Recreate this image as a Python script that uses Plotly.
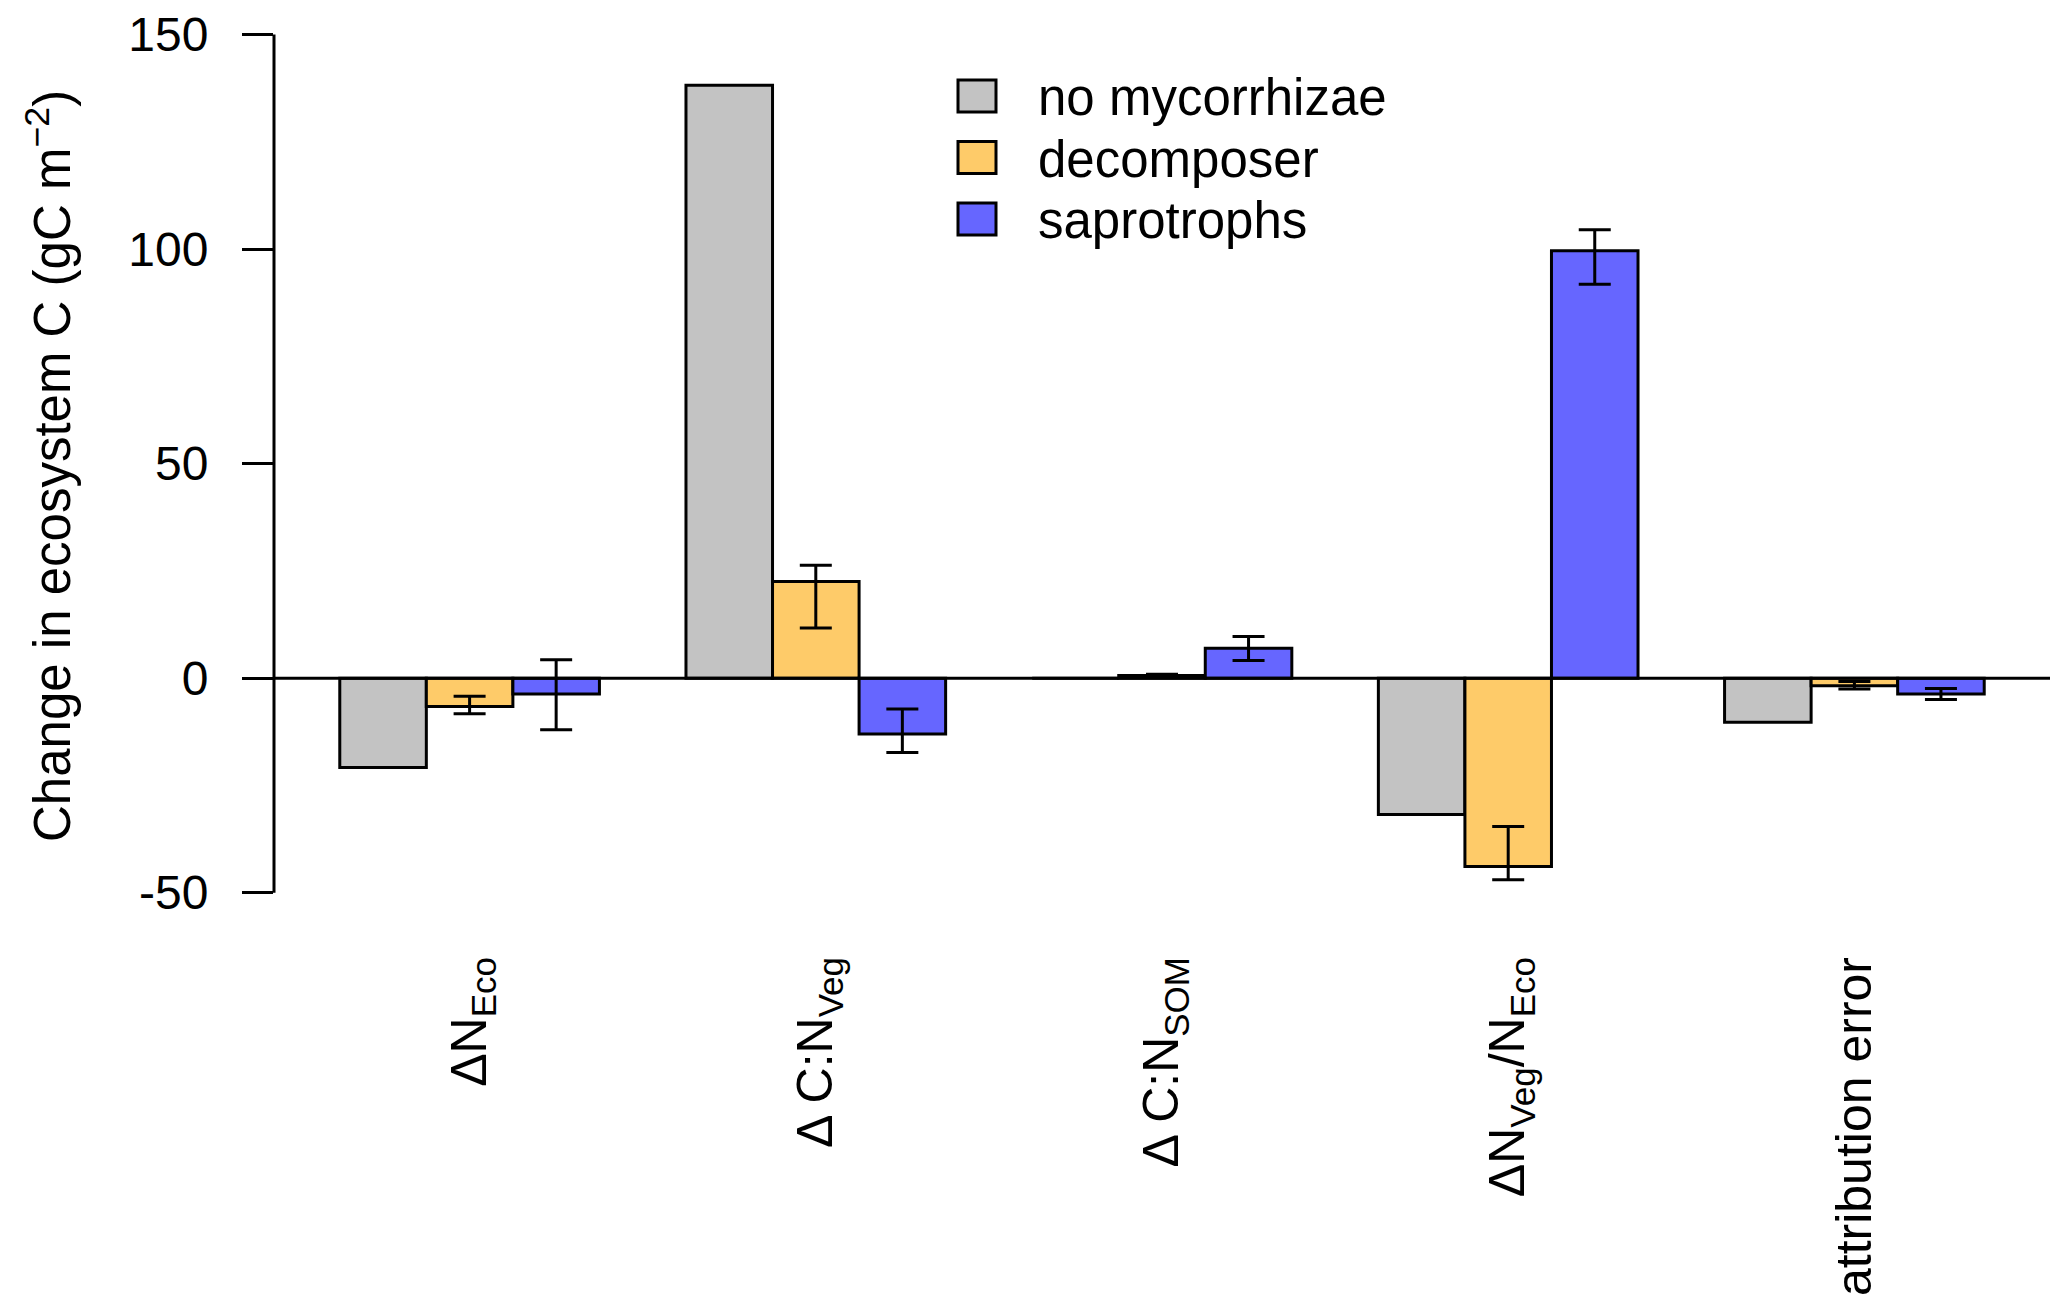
import plotly.graph_objects as go

# categories (x axis) and series
categories = ["ΔN<sub>Eco</sub>", "Δ C:N<sub>Veg</sub>", "Δ C:N<sub>SOM</sub>",
              "ΔN<sub>Veg</sub>/N<sub>Eco</sub>", "attribution error"]
series_names = ["no mycorrhizae", "decomposer", "saprotrophs"]
series_colors = ["#C3C3C3", "#FECB69", "#6666FF"]

no_myc = [-20.8, 138.2, 0.0, -31.8, -10.3]
decomposer = [-6.6, 22.5, 0.6, -43.9, -1.75]
decomposer_lo = [-8.3, 11.7, 0.3, -47.0, -2.5]
decomposer_hi = [-4.2, 26.3, 0.9, -34.6, -0.8]
saprotrophs = [-3.7, -13.0, 6.95, 99.6, -3.7]
saprotrophs_lo = [-12.0, -17.3, 4.1, 91.8, -5.0]
saprotrophs_hi = [4.3, -7.2, 9.7, 104.5, -2.4]

y_ticks = [-50, 0, 50, 100, 150]
y_ticktext = ["-50", "0", "50", "100", "150"]

FONT = "Liberation Sans, Arial, sans-serif"
# page body has an 8px margin, so the figure is a bit smaller than the window
W, H = 2051, 1299
ML, MR, MT, MB = 266, 9, 0, 380
OFF = 8
LW = 3


def err(vals, lo, hi):
    return dict(type="data", symmetric=False,
                array=[h - v for v, h in zip(vals, hi)],
                arrayminus=[v - l for v, l in zip(vals, lo)],
                color="black", thickness=LW, width=16)


fig = go.Figure()
fig.add_trace(go.Bar(x=categories, y=no_myc, name=series_names[0],
                     marker=dict(color=series_colors[0], line=dict(color="black", width=LW))))
fig.add_trace(go.Bar(x=categories, y=decomposer, name=series_names[1],
                     marker=dict(color=series_colors[1], line=dict(color="black", width=LW)),
                     error_y=err(decomposer, decomposer_lo, decomposer_hi)))
fig.add_trace(go.Bar(x=categories, y=saprotrophs, name=series_names[2],
                     marker=dict(color=series_colors[2], line=dict(color="black", width=LW)),
                     error_y=err(saprotrophs, saprotrophs_lo, saprotrophs_hi)))

# zero line and y axis line (R style, axis only spans the ticks)
fig.add_shape(type="line", xref="paper", yref="y", x0=0, x1=1, y0=0, y1=0,
              line=dict(color="black", width=LW), layer="above")
fig.add_shape(type="line", xref="paper", yref="y", x0=0, x1=0,
              y0=min(y_ticks), y1=max(y_ticks), line=dict(color="black", width=LW))

# legend drawn by hand to get the big R-style boxes
plot_w = W - ML - MR
plot_h = H - MT - MB


def px(x):
    return (x - OFF - ML) / plot_w


def py(y):
    return 1 - (y - OFF - MT) / plot_h


for i, (nm, col) in enumerate(zip(series_names, series_colors)):
    yc = 96 + 61.5 * i
    fig.add_shape(type="rect", xref="paper", yref="paper",
                  x0=px(958), x1=px(996), y0=py(yc + 16), y1=py(yc - 16),
                  fillcolor=col, line=dict(color="black", width=LW))
    fig.add_annotation(xref="paper", yref="paper", x=px(1036), y=py(yc + 2), text=nm,
                       showarrow=False, xanchor="left", yanchor="middle",
                       font=dict(size=51, color="black", family=FONT))

# y axis title
fig.add_annotation(xref="paper", yref="paper", x=px(49), y=py(466),
                   text="Change in ecosystem C (gC m<sup>−2</sup>)", textangle=-90,
                   showarrow=False, xanchor="center", yanchor="middle",
                   font=dict(size=51, color="black", family=FONT))

fig.update_layout(
    width=W, height=H,
    margin=dict(l=ML, r=MR, t=MT, b=MB),
    paper_bgcolor="white", plot_bgcolor="white",
    barmode="group", bargap=0.25, bargroupgap=0,
    showlegend=False,
    font=dict(family=FONT, color="black"),
)
fig.update_xaxes(range=[-0.565, 4.565], showgrid=False, zeroline=False, showline=False,
                 ticks="", tickangle=-90, tickfont=dict(size=50, family=FONT),
                 ticklabelstandoff=19, automargin=False)
fig.update_yaxes(range=[-58, 156.2], showgrid=False, zeroline=False, showline=False,
                 tickvals=y_ticks, ticktext=y_ticktext, ticks="outside", ticklen=31,
                 tickwidth=LW, tickcolor="black", tickfont=dict(size=48, family=FONT),
                 ticklabelstandoff=24, automargin=False)

fig.write_html("out.html")
